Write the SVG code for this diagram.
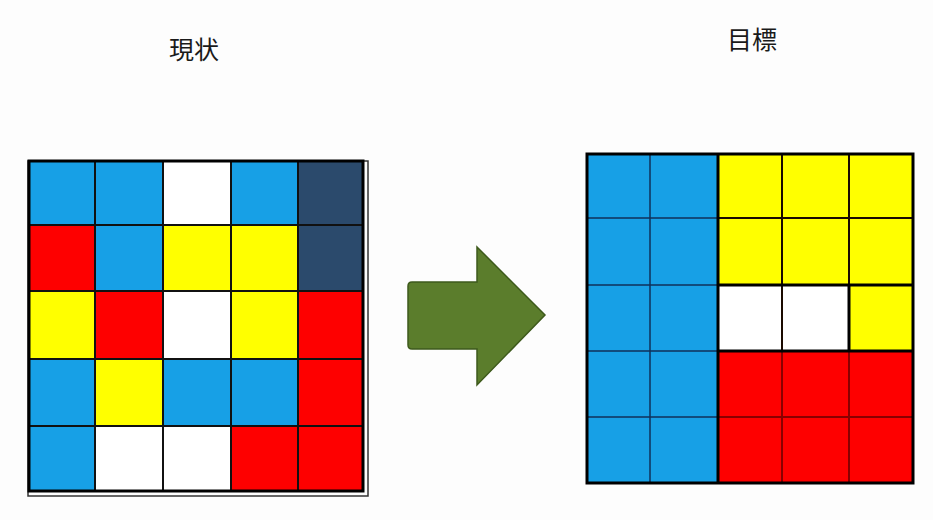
<svg xmlns="http://www.w3.org/2000/svg" width="933" height="520" viewBox="0 0 933 520">
<style>
.t{font-family:"Noto Sans CJK JP","Noto Sans CJK SC",sans-serif;font-size:25px;fill:#1a1a1a;text-anchor:middle}
.c{stroke:#111;stroke-width:2}
.B{fill:#17a0e6}.N{fill:#2b4a6c}.R{fill:#fe0000}.Y{fill:#ffff00}.W{fill:#ffffff}
.thin{stroke:#10305a;stroke-width:1.5}
.thick{stroke:#000;stroke-width:3;fill:none}
</style>
<rect width="933" height="520" fill="#fdfdfd"/>
<g id="title-current"><text class="t" x="194" y="59">現状</text></g>
<g id="title-target"><text class="t" x="752" y="49">目標</text></g>
<g id="grid-current">
<rect x="28" y="161" width="340" height="335" fill="none" stroke="#333" stroke-width="1.5"/>
<rect class="c B" x="29" y="161" width="66" height="64"/>
<rect class="c B" x="95" y="161" width="68" height="64"/>
<rect class="c W" x="163" y="161" width="68" height="64"/>
<rect class="c B" x="231" y="161" width="67" height="64"/>
<rect class="c N" x="298" y="161" width="65" height="64"/>
<rect class="c R" x="29" y="225" width="66" height="66"/>
<rect class="c B" x="95" y="225" width="68" height="66"/>
<rect class="c Y" x="163" y="225" width="68" height="66"/>
<rect class="c Y" x="231" y="225" width="67" height="66"/>
<rect class="c N" x="298" y="225" width="65" height="66"/>
<rect class="c Y" x="29" y="291" width="66" height="68"/>
<rect class="c R" x="95" y="291" width="68" height="68"/>
<rect class="c W" x="163" y="291" width="68" height="68"/>
<rect class="c Y" x="231" y="291" width="67" height="68"/>
<rect class="c R" x="298" y="291" width="65" height="68"/>
<rect class="c B" x="29" y="359" width="66" height="67"/>
<rect class="c Y" x="95" y="359" width="68" height="67"/>
<rect class="c B" x="163" y="359" width="68" height="67"/>
<rect class="c B" x="231" y="359" width="67" height="67"/>
<rect class="c R" x="298" y="359" width="65" height="67"/>
<rect class="c B" x="29" y="426" width="66" height="65"/>
<rect class="c W" x="95" y="426" width="68" height="65"/>
<rect class="c W" x="163" y="426" width="68" height="65"/>
<rect class="c R" x="231" y="426" width="67" height="65"/>
<rect class="c R" x="298" y="426" width="65" height="65"/>
<rect x="29" y="161" width="334" height="330" fill="none" stroke="#000" stroke-width="3"/>
</g>
<g id="arrow">
<path d="M412,282 H477 V247 L545,315 L477,385 V349 H412 Q408,349 408,345 V286 Q408,282 412,282 Z" fill="#5b7d2c" stroke="#3e5a1c" stroke-width="1.5"/>
</g>
<g id="grid-target">
<rect class="B" x="587" y="154" width="131" height="329"/>
<rect class="Y" x="718" y="154" width="195" height="131"/>
<rect class="Y" x="849" y="285" width="64" height="66"/>
<rect class="W" x="718" y="285" width="131" height="66"/>
<rect class="R" x="718" y="351" width="195" height="132"/>
<g class="thin">
<line x1="650" y1="154" x2="650" y2="483"/>
<line x1="587" y1="218" x2="718" y2="218"/>
<line x1="587" y1="285" x2="718" y2="285"/>
<line x1="587" y1="351" x2="718" y2="351"/>
<line x1="587" y1="417" x2="718" y2="417"/>
</g>
<g stroke="#1a0a00" stroke-width="2">
<line x1="782" y1="154" x2="782" y2="285"/>
<line x1="718" y1="218" x2="913" y2="218"/>
<line x1="849" y1="154" x2="849" y2="285"/>
<line x1="782" y1="285" x2="782" y2="351"/>
</g>
<g stroke="#8a0000" stroke-width="2">
<line x1="782" y1="351" x2="782" y2="483"/>
<line x1="849" y1="351" x2="849" y2="483"/>
<line x1="718" y1="417" x2="913" y2="417"/>
</g>
<g class="thick">
<line x1="718" y1="154" x2="718" y2="483"/>
<line x1="718" y1="285" x2="913" y2="285"/>
<line x1="849" y1="285" x2="849" y2="351"/>
<line x1="718" y1="351" x2="913" y2="351"/>
<rect x="587" y="154" width="326" height="329"/>
</g>
</g>
</svg>
